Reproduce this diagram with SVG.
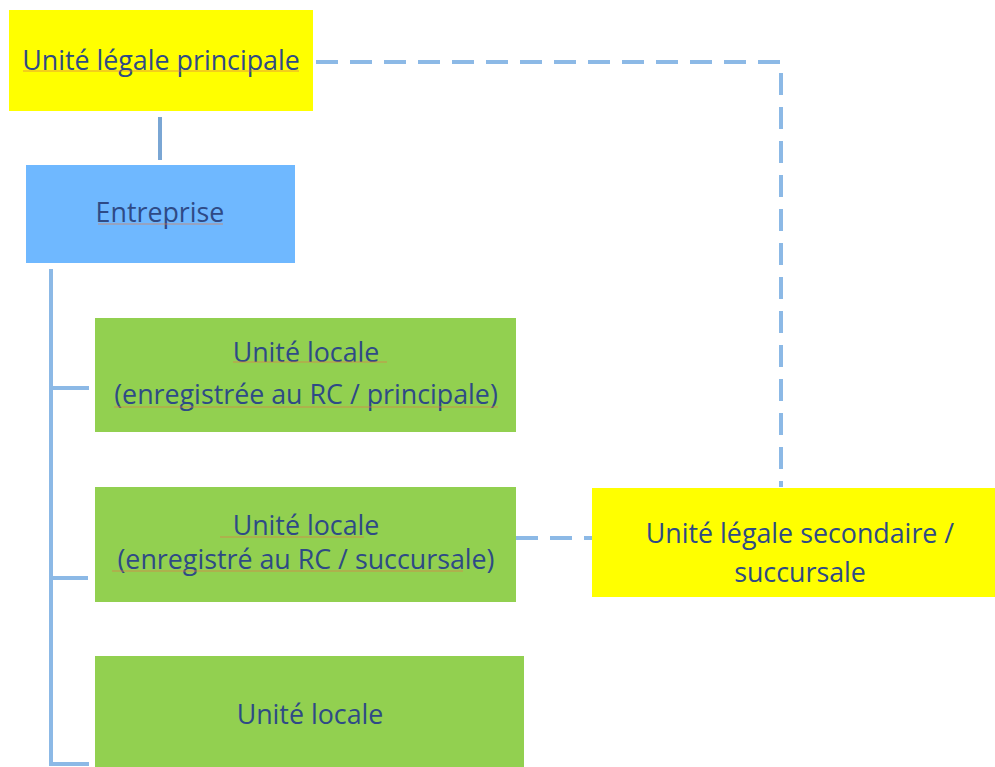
<svg xmlns="http://www.w3.org/2000/svg" width="995" height="767" viewBox="0 0 995 767">
<style>
text{font-family:"Open Sans","Noto Sans","Liberation Sans",sans-serif;fill:#2e4a86;text-anchor:middle;font-size:26.8px}
.y{fill:#ffff00}.g{fill:#92d050}.b{fill:#6fb8ff}
.solid{stroke:#8cb9e6;stroke-width:4;fill:none}
.dash{stroke:#8cb9e6;stroke-width:4;fill:none;stroke-dasharray:22 12}
.sq{stroke:#e07a4a;stroke-width:1;opacity:0.7}
</style>
<g id="connectors">
<line x1="160" y1="117" x2="160" y2="160" stroke="#7aa6d4" stroke-width="4"/>
<polyline class="solid" points="51,269 51,764 89,764"/>
<line class="solid" x1="51" y1="388" x2="89" y2="388"/>
<line class="solid" x1="51" y1="578" x2="88" y2="578"/>
<polyline class="dash" points="316,62 781,62 781,487"/>
<line class="dash" x1="516" y1="538" x2="592" y2="538"/>
</g>
<g id="ulp">
<rect class="y" x="9" y="10" width="304" height="101"/>
<text x="161" y="70">Unité légale principale</text>
<line class="sq" x1="23" y1="71" x2="299" y2="71"/>
</g>
<g id="entreprise">
<rect class="b" x="26" y="165" width="269" height="98"/>
<text x="160" y="222">Entreprise</text>
<line class="sq" x1="98" y1="224" x2="223" y2="224"/>
</g>
<g id="ul1">
<rect class="g" x="95" y="318" width="421" height="114"/>
<text x="306" y="362">Unité locale </text>
<text x="306" y="404">(enregistrée au RC / principale)</text>
<line class="sq" x1="233" y1="362" x2="387" y2="362"/>
<line class="sq" x1="114" y1="407" x2="498" y2="407"/>
</g>
<g id="ul2">
<rect class="g" x="95" y="487" width="421" height="115"/>
<text x="306" y="535">Unité locale </text>
<text x="306" y="569">(enregistré au RC / succursale)</text>
<line class="sq" x1="220" y1="537" x2="364" y2="537"/>
<line class="sq" x1="112" y1="571" x2="463" y2="571"/>
</g>
<g id="ul3">
<rect class="g" x="95" y="656" width="429" height="111"/>
<text x="310" y="724">Unité locale</text>
</g>
<g id="uls">
<rect class="y" x="592" y="488" width="403" height="109"/>
<text x="800" y="543">Unité légale secondaire /</text>
<text x="800" y="582">succursale</text>
</g>
</svg>
